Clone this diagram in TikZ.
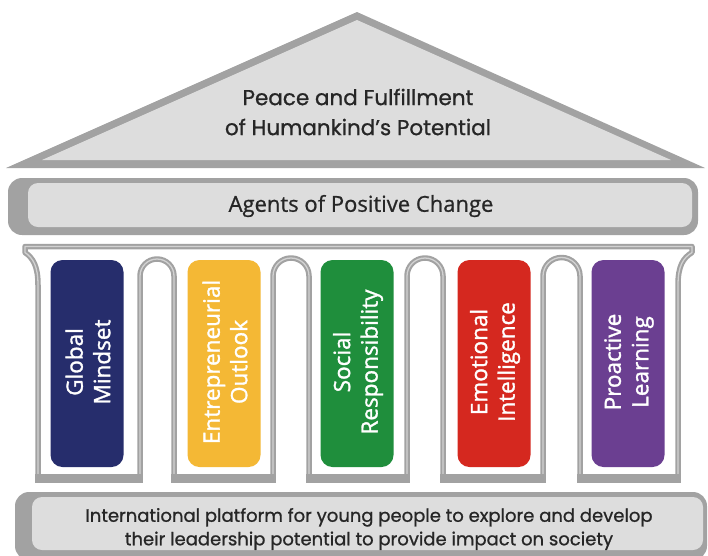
\documentclass[tikz,border=0pt]{standalone}
\usepackage{fontspec}
\newfontfamily\popf{Poppins}[FakeBold=0.9]
\newfontfamily\colfont{Open Sans}[FakeBold=1.4]
\newfontfamily\barfont{Open Sans}[FakeBold=0.8]
\definecolor{edgegray}{HTML}{A2A2A2}
\definecolor{lightfill}{HTML}{DDDDDD}
\definecolor{innerline}{HTML}{D2D2D2}
\definecolor{textdark}{HTML}{262626}
\definecolor{cnavy}{HTML}{262D6C}
\definecolor{cyellow}{HTML}{F4B835}
\definecolor{cgreen}{HTML}{1F8E3C}
\definecolor{cred}{HTML}{D5281F}
\definecolor{cpurple}{HTML}{6B3F91}
\begin{document}
\begin{tikzpicture}[x=1pt,y=-1pt,
  colline/.style={draw=edgegray, double=innerline, line width=2.1pt, double distance=1.3pt, line join=round},
  toptext/.style={font=\popf\fontsize{21.5}{30}\selectfont, text=textdark, align=center, inner sep=0pt},
  bartext/.style={font=\barfont\fontsize{22}{26}\selectfont, text=textdark, inner sep=0pt},
  bottext/.style={font=\popf\fontsize{18}{23.5}\selectfont, text=textdark, align=center, inner sep=0pt},
  pillarbox/.style={rounded corners=12pt, minimum width=73pt, minimum height=207pt, inner sep=0pt},
  pillartext/.style={font=\colfont\fontsize{22.5}{27.5}\selectfont, text=white, align=center, rotate=90, inner sep=0pt}
]
\useasboundingbox (0,0) rectangle (708,555);
% roof
\fill[edgegray] (357,12) -- (6,168) -- (705,168) -- cycle;
\fill[lightfill] (357,20) -- (42,160) -- (671,160) -- cycle;
\node[toptext] (peace) at (358,112) {Peace and Fulfillment\\of Humankind’s Potential};
% agents bar
\fill[edgegray, rounded corners=14pt] (8,178) rectangle (698,235);
\fill[lightfill, rounded corners=10pt] (28,183) rectangle (692,227);
\node[bartext] (agents) at (361,206) {Agents of Positive Change};
% columns outline
\filldraw[colline, fill=white] (25,246.5) -- (692,246.5) -- (692,252.5)
  .. controls (683,258) and (678,266) .. (678,285) -- (678,480)
  -- (580,480) -- (580,276) arc[start angle=0, end angle=-180, radius=18.5]
  -- (543,480) -- (443,480) -- (443,276) arc[start angle=0, end angle=-180, radius=18]
  -- (407,480) -- (309,480) -- (309,276) arc[start angle=0, end angle=-180, radius=18]
  -- (273,480) -- (174,480) -- (174,276) arc[start angle=0, end angle=-180, radius=17]
  -- (140,480) -- (38,480) -- (38,285)
  .. controls (38,266) and (33,258) .. (25,252.5) -- cycle;
\foreach \l/\r in {38/140, 174/273, 309/407, 443/543, 580/678}
  \fill[edgegray] (\l-2.8,474) rectangle (\r+2.8,483);
% pillar boxes
\node[pillarbox, fill=cnavy]   (b1) at (87,363.5) {};
\node[pillarbox, fill=cyellow] (b2) at (224,363.5) {};
\node[pillarbox, fill=cgreen]  (b3) at (357,363.5) {};
\node[pillarbox, fill=cred]    (b4) at (494,363.5) {};
\node[pillarbox, fill=cpurple] (b5) at (628,363.5) {};
\node[pillartext] (t1) at (88,362) {Global\\Mindset};
\node[pillartext] (t2) at (225,362) {Entrepreneurial\\Outlook};
\node[pillartext] (t3) at (358,362) {Social\\Responsibility};
\node[pillartext] (t4) at (495,362) {Emotional\\Intelligence};
\node[pillartext] (t5) at (629,362) {Proactive\\Learning};
% foundation
\fill[edgegray, rounded corners=14pt] (15,492) rectangle (707,560);
\fill[lightfill, rounded corners=10pt] (32,497) rectangle (703,550);
\node[bottext] (found) at (369,529) {International platform for young people to explore and develop\\their leadership potential to provide impact on society};
\end{tikzpicture}
\end{document}
